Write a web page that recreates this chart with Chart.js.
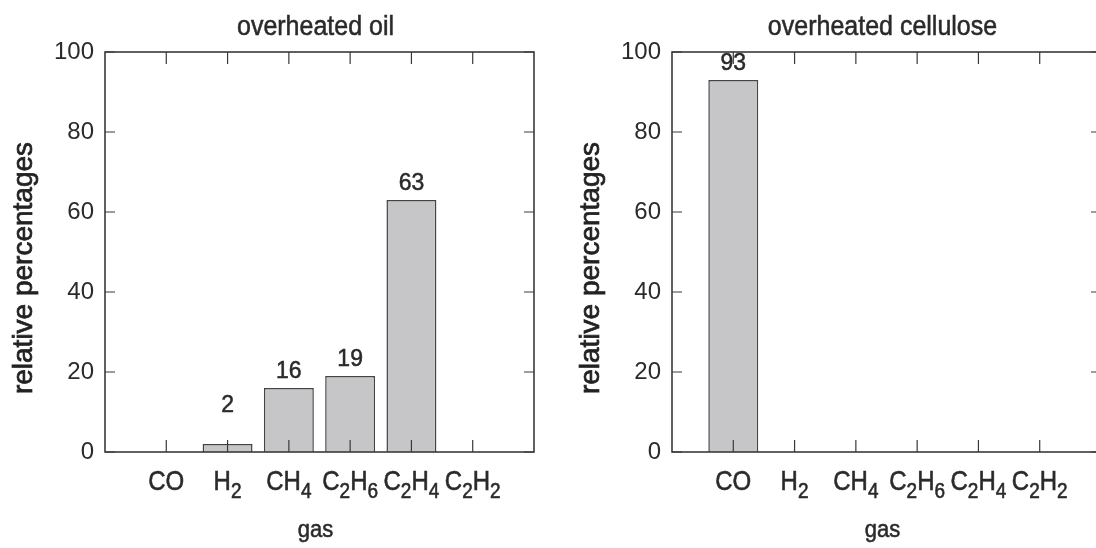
<!DOCTYPE html>
<html>
<head>
<meta charset="utf-8">
<script src="https://cdn.jsdelivr.net/npm/chart.js@4/dist/chart.umd.min.js"></script>
<style>
  html, body { margin: 0; padding: 0; background: #fff; overflow: hidden; width: 1096px; height: 548px; }
  canvas { position: absolute; top: 0; }
  #oilChart { left: 0; }
  #celluloseChart { left: 548px; }
</style>
</head>
<body>
<canvas id="oilChart" width="548" height="548"></canvas>
<canvas id="celluloseChart" width="567" height="548"></canvas>
<script>
// gases on the x axis, digits are drawn as subscripts
var gases = ['CO', 'H2', 'CH4', 'C2H6', 'C2H4', 'C2H2'];
var oilValues = [0, 2, 16, 19, 63, 0];
var celluloseValues = [93, 0, 0, 0, 0, 0];
var yTicks = [0, 20, 40, 60, 80, 100];

var textColor = '#2a2a2a';
var lineColor = '#3a3a3a';
var fontName = '"Liberation Sans", Arial, Helvetica, sans-serif';

function stretchText(ctx, text, x, y, size, align, sy) {
    ctx.save();
    ctx.font = size + 'px ' + fontName;
    ctx.textAlign = align;
    ctx.textBaseline = 'alphabetic';
    ctx.translate(x, y);
    ctx.scale(1, sy);
    ctx.fillText(text, 0, 0);
    ctx.lineWidth = 0.5;
    ctx.strokeStyle = ctx.fillStyle;
    ctx.strokeText(text, 0, 0);
    ctx.restore();
}

// split 'C2H6' into runs of normal text and subscript digits
function chemParts(label) {
    var parts = [];
    for (var i = 0; i < label.length; i++) {
        var sub = /[0-9]/.test(label[i]);
        if (parts.length && parts[parts.length - 1].sub === sub) {
            parts[parts.length - 1].text += label[i];
        } else {
            parts.push({ text: label[i], sub: sub });
        }
    }
    return parts;
}

function drawChemLabel(ctx, label, cx, baseline) {
    var parts = chemParts(label);
    var total = 0;
    parts.forEach(function (p) {
        ctx.font = (p.sub ? 19 : 24) + 'px ' + fontName;
        p.w = ctx.measureText(p.text).width;
        total += p.w;
    });
    var x = cx - total / 2;
    parts.forEach(function (p) {
        stretchText(ctx, p.text, x, p.sub ? baseline + 8 : baseline, p.sub ? 19 : 24, 'left', 1.12);
        x += p.w;
    });
}

var gasPlotPlugin = {
    id: 'gasPlot',
    afterDraw: function (chart) {
        var ctx = chart.ctx;
        var area = chart.chartArea;
        var xs = chart.scales.x;
        var ys = chart.scales.y;
        var opts = chart.options.plugins.gasPlot;
        var mid = (area.left + area.right) / 2 - 4;

        ctx.save();
        // frame
        ctx.strokeStyle = lineColor;
        ctx.lineWidth = 1.6;
        ctx.strokeRect(area.left, area.top, area.right - area.left, area.bottom - area.top);

        // inward tick marks
        ctx.lineWidth = 1.2;
        ctx.beginPath();
        yTicks.forEach(function (v) {
            var py = ys.getPixelForValue(v);
            ctx.moveTo(area.left, py);
            ctx.lineTo(area.left + 10, py);
            ctx.moveTo(area.right, py);
            ctx.lineTo(area.right - 10, py);
        });
        gases.forEach(function (g, i) {
            var px = xs.getPixelForTick(i + 1);
            ctx.moveTo(px, area.bottom);
            ctx.lineTo(px, area.bottom - 12);
            ctx.moveTo(px, area.top);
            ctx.lineTo(px, area.top + 12);
        });
        ctx.stroke();

        ctx.fillStyle = textColor;
        // x labels with subscripts
        gases.forEach(function (g, i) {
            drawChemLabel(ctx, g, xs.getPixelForTick(i + 1), 490);
        });

        // value labels over the bars
        opts.values.forEach(function (v, i) {
            if (!v) return;
            var px = xs.getPixelForTick(i + 1);
            var py = ys.getPixelForValue(Math.max(v + 2.5, 10));
            stretchText(ctx, String(v), px, py, 23, 'center', 1.08);
        });

        // titles
        stretchText(ctx, opts.title, mid, 35, 25, 'center', 1.1);
        stretchText(ctx, 'gas', mid, 537, 22, 'center', 1.12);

        ctx.save();
        ctx.translate(area.left - 81, 268);
        ctx.rotate(-Math.PI / 2);
        ctx.fillStyle = '#222';
        ctx.strokeStyle = '#222';
        ctx.lineWidth = 0.7;
        ctx.font = '28px ' + fontName;
        ctx.textAlign = 'center';
        ctx.textBaseline = 'middle';
        ctx.fillText('relative percentages', 0, 0);
        ctx.strokeText('relative percentages', 0, 0);
        ctx.restore();

        ctx.restore();
    }
};

function makeGasChart(id, title, values, leftWidth) {
    return new Chart(document.getElementById(id), {
        type: 'bar',
        data: {
            labels: [''].concat(gases, ['']),
            datasets: [{
                data: [null].concat(values, [null]),
                backgroundColor: '#c6c6c8',
                borderColor: '#444',
                borderWidth: 1.5,
                borderSkipped: 'bottom',
                barPercentage: 0.815,
                categoryPercentage: 1
            }]
        },
        options: {
            responsive: false,
            animation: false,
            layout: {
                padding: { top: 52, right: 14, bottom: 0, left: 0 }
            },
            plugins: {
                legend: { display: false },
                tooltip: { enabled: false },
                gasPlot: { title: title, values: values }
            },
            scales: {
                x: {
                    offset: false,
                    grid: { display: false, drawTicks: false, offset: false },
                    border: { display: false },
                    ticks: { display: false },
                    afterFit: function (scale) { scale.height = 96; }
                },
                y: {
                    min: 0,
                    max: 100,
                    grid: { display: false, drawTicks: false },
                    border: { display: false },
                    ticks: {
                        stepSize: 20,
                        padding: 11,
                        color: textColor,
                        font: { family: fontName, size: 24 }
                    },
                    afterFit: function (scale) { scale.width = leftWidth; }
                }
            }
        },
        plugins: [gasPlotPlugin]
    });
}

makeGasChart('oilChart', 'overheated oil', oilValues, 105);
makeGasChart('celluloseChart', 'overheated cellulose', celluloseValues, 124);
</script>
</body>
</html>
